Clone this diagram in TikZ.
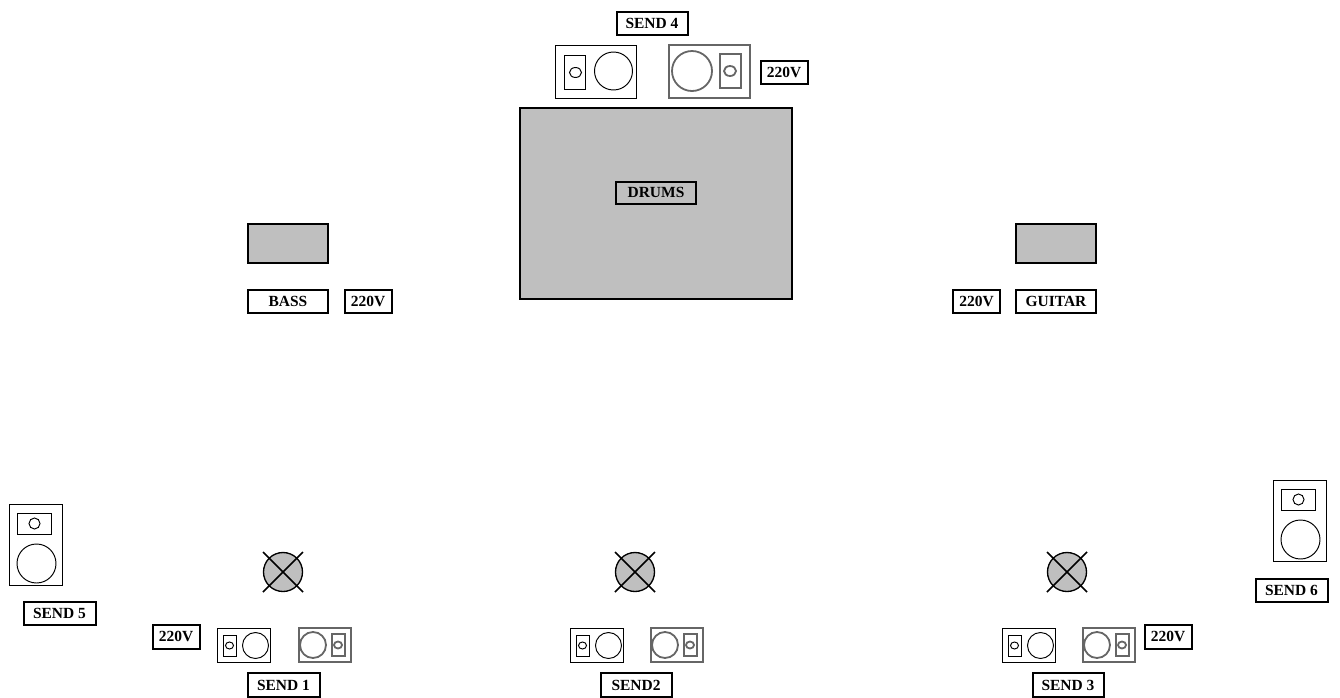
\documentclass[tikz,border=0pt]{standalone}
\usepackage{fontspec}
\setmainfont{Liberation Serif}
\definecolor{fillgray}{HTML}{BFBFBF}
\definecolor{spkgray}{HTML}{666666}
\tikzset{
  lbl/.style 2 args={draw=black,line width=1.5pt,fill=white,inner sep=0pt,
    minimum width=#1*.75pt,minimum height=#2*.75pt,
    font=\fontsize{11.6pt}{12pt}\selectfont\bfseries},
  block/.style 2 args={draw=black,line width=1.5pt,fill=fillgray,inner sep=0pt,
    minimum width=#1*.75pt,minimum height=#2*.75pt},
  spk/.style={draw=black,line width=.72pt,fill=none},
  spkthick/.style={draw=spkgray,line width=1.35pt,fill=none},
  crossline/.style={draw=black,line width=1.2pt}
}
% small horizontal speaker: driver on the right (x,y = top-left)
\newcommand{\smallL}[3]{\begin{scope}[shift={(#1+.5,#2+.5)}]
  \draw[#3] (0,0) rectangle (53,34);
  \draw[#3] (6,7) rectangle (19,28);
  \draw[#3] (12,17) ellipse (4 and 3.5);
  \draw[#3] (38,17) circle (13);
\end{scope}}
% small horizontal speaker: driver on the left
\newcommand{\smallR}[3]{\begin{scope}[shift={(#1,#2)}]
  \draw[#3] (0,0) rectangle (52,34);
  \draw[#3] (33,6) rectangle (46,28);
  \draw[#3] (39,17) ellipse (4 and 3.5);
  \draw[#3] (14,17) circle (13);
\end{scope}}
\newcommand{\vertspk}[1]{\begin{scope}[shift={(#1)}]
  \draw[spk] (0,0) rectangle (53,81);
  \draw[spk] (8,9) rectangle (42,30);
  \draw[spk] (25,19) ellipse (5.5 and 5.5);
  \draw[spk] (27,59) circle (19.5);
\end{scope}}
\newcommand{\monitor}[3]{%
  \node[circle,draw=black,line width=1pt,fill=fillgray,minimum size=39*.75pt,inner sep=0pt] (#3) at (#1,#2) {};
  \coordinate (#3a) at (#1-20,#2-20); \coordinate (#3b) at (#1+20,#2+20);
  \coordinate (#3c) at (#1+20,#2-20); \coordinate (#3d) at (#1-20,#2+20);
  \draw[crossline] (#3a) -- (#3b);
  \draw[crossline] (#3c) -- (#3d);}
\begin{document}
\begin{tikzpicture}[x=.75pt,y=-.75pt]
\useasboundingbox (0,0) rectangle (1340,697);
% central blocks
\node[block={272}{191}] (drumkit) at (656,203.5) {};
\node[lbl={80}{22},fill=none] (drums) at (656,192.5) {DRUMS};
\node[block={80}{39}] (bassamp) at (288,243.5) {};
\node[block={80}{39}] (guitaramp) at (1056,243.5) {};
\node[lbl={80}{23}] (bass) at (288,301) {BASS};
\node[lbl={47}{23}] (v1) at (368,301) {220V};
\node[lbl={47}{23}] (v2) at (976.5,301) {220V};
\node[lbl={80}{23}] (guitar) at (1056,301) {GUITAR};
% drum monitors
\begin{scope}[shift={(555.5,45.5)}]
  \draw[spk] (0,0) rectangle (81,53);
  \draw[spk] (9,10) rectangle (30,44);
  \draw[spk] (20,27) ellipse (6 and 5);
  \draw[spk] (58,25.5) circle (19);
\end{scope}
\begin{scope}[shift={(669,45)}]
  \draw[spkthick,line width=1.5pt] (0,0) rectangle (81,53);
  \draw[spkthick] (51,9) rectangle (72,43);
  \draw[spkthick] (61,26) ellipse (6 and 5);
  \draw[spkthick] (23,26) circle (20);
\end{scope}
\node[lbl={71}{23}] (send4) at (652,23) {SEND 4};
\node[lbl={47}{23}] (v3) at (784,72) {220V};
% front monitors
\monitor{283}{572}{m1}
\monitor{635}{572}{m2}
\monitor{1067}{572}{m3}
\smallL{217}{628}{spk}
\smallR{299}{628}{spkthick}
\smallL{570}{628}{spk}
\smallR{651}{628}{spkthick}
\smallL{1002}{628}{spk}
\smallR{1083}{628}{spkthick}
\node[lbl={47}{24}] (v4) at (176,636.5) {220V};
\node[lbl={47}{24}] (v5) at (1168,636.5) {220V};
\node[lbl={72}{24}] (send1) at (283.5,685) {SEND 1};
\node[lbl={71}{24}] (send2) at (636,685) {SEND2};
\node[lbl={71}{24}] (send3) at (1068,685) {SEND 3};
% side fills
\vertspk{9.5,504.5}
\vertspk{1273.5,480.5}
\node[lbl={72}{23}] (send5) at (59.5,613) {SEND 5};
\node[lbl={72}{23}] (send6) at (1291.5,590) {SEND 6};
\end{tikzpicture}
\end{document}
